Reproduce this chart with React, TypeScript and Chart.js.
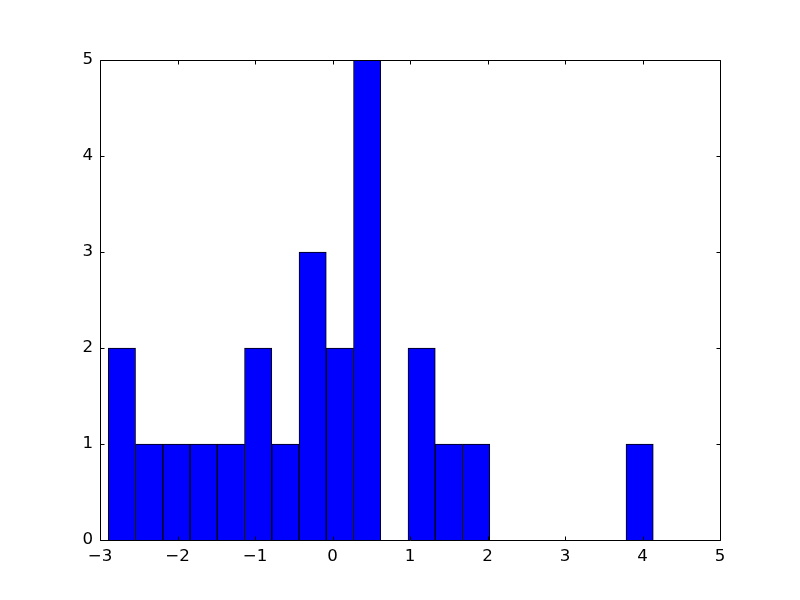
import React, { useEffect, useRef } from "react";
import { Chart, registerables } from "chart.js";

Chart.register(...registerables);

const binStart = -2.893;
const binWidth = 0.3516;
const counts = [2, 1, 1, 1, 1, 2, 1, 3, 2, 5, 0, 2, 1, 1, 0, 0, 0, 0, 0, 1];
const xTicks = [-3, -2, -1, 0, 1, 2, 3, 4, 5];
const yTicks = [0, 1, 2, 3, 4, 5];

const fmt = (v: number) => (v < 0 ? "\u2212" + Math.abs(v) : String(v));

const framePlugin = {
  id: "frameTicks",
  afterDraw(chart: any) {
    const { ctx, chartArea, scales } = chart;
    const { left, right, top, bottom } = chartArea;
    ctx.save();
    ctx.strokeStyle = "#000";
    ctx.lineWidth = 1;
    ctx.beginPath();
    const L = Math.round(left) + 0.5, R = Math.round(right) + 0.5;
    const T = Math.round(top) + 0.5, B = Math.round(bottom) + 0.5;
    ctx.rect(L, T, R - L, B - T);
    const len = 4;
    for (const v of xTicks) {
      const px = Math.round(scales.x.getPixelForValue(v)) + 0.5;
      ctx.moveTo(px, B); ctx.lineTo(px, B - len);
      ctx.moveTo(px, T); ctx.lineTo(px, T + len);
    }
    for (const v of yTicks) {
      const py = Math.round(scales.y.getPixelForValue(v)) + 0.5;
      ctx.moveTo(L, py); ctx.lineTo(L + len, py);
      ctx.moveTo(R, py); ctx.lineTo(R - len, py);
    }
    ctx.stroke();
    ctx.restore();
  },
};

export default function App() {
  const ref = useRef<HTMLCanvasElement>(null);
  useEffect(() => {
    const data = counts.map((c, i) => ({ x: binStart + binWidth * (i + 0.5), y: c }));
    const font = { family: "'DejaVu Sans', sans-serif", size: 16.67 };
    const chart = new Chart(ref.current!, {
      type: "bar",
      data: {
        datasets: [
          {
            data: data as any,
            backgroundColor: "#0000ff",
            borderColor: "#000000",
            borderWidth: 1,
            barPercentage: 1,
            categoryPercentage: 1,
          },
        ],
      },
      options: {
        animation: false,
        responsive: false,
        devicePixelRatio: 1,
        layout: { padding: { top: 60, right: 80, left: 0, bottom: 0 } },
        plugins: { legend: { display: false }, tooltip: { enabled: false } },
        scales: {
          x: {
            type: "linear",
            min: -3,
            max: 5,
            offset: false,
            grid: { display: false, drawTicks: false },
            border: { display: false },
            afterFit: (s: any) => { s.height = 60; },
            afterBuildTicks: (s: any) => { s.ticks = xTicks.map((v) => ({ value: v })); },
            ticks: { color: "#000", font, padding: 7, maxRotation: 0, callback: (v: any) => fmt(Number(v)) },
          },
          y: {
            min: 0,
            max: 5,
            grid: { display: false, drawTicks: false },
            border: { display: false },
            afterFit: (s: any) => { s.width = 100; },
            afterBuildTicks: (s: any) => { s.ticks = yTicks.map((v) => ({ value: v })); },
            ticks: { color: "#000", font, padding: 7, callback: (v: any) => fmt(Number(v)) },
          },
        },
      },
      plugins: [framePlugin],
    });
    return () => chart.destroy();
  }, []);
  return (
    <div style={{ position: "absolute", left: 0, top: 0, width: 800, height: 600, background: "#fff" }}>
      <canvas ref={ref} width={800} height={600} style={{ display: "block" }} />
    </div>
  );
}
